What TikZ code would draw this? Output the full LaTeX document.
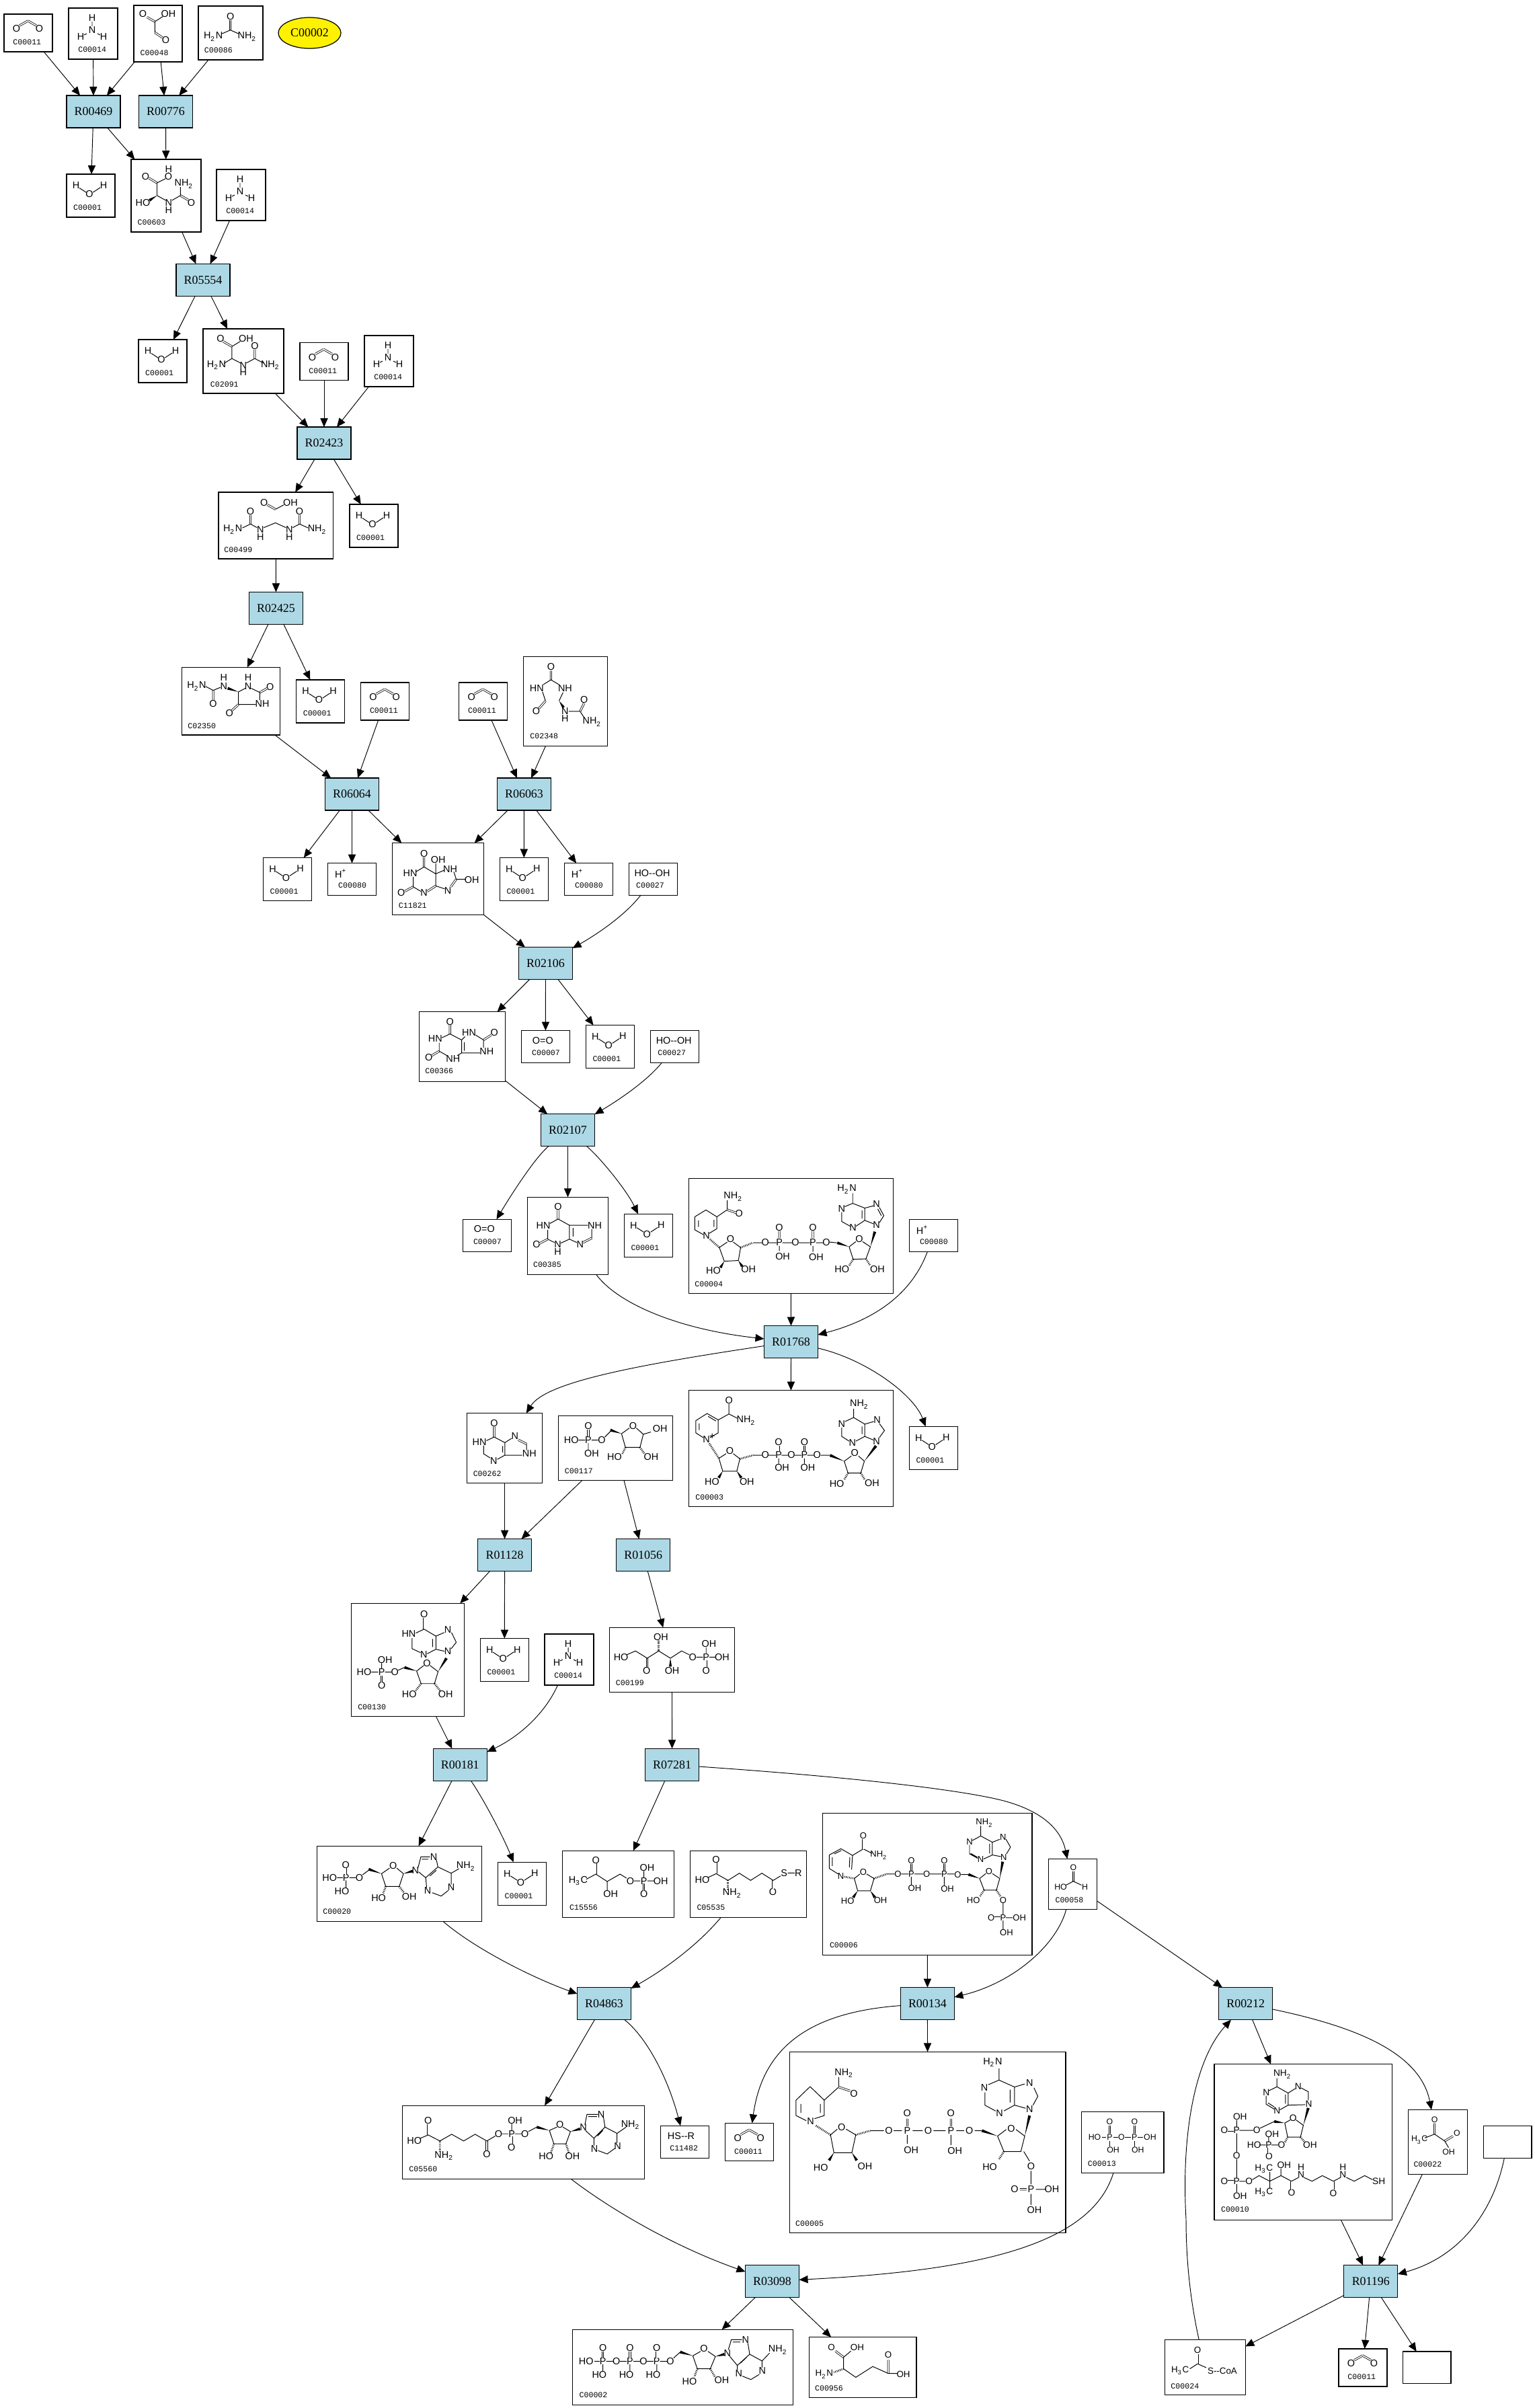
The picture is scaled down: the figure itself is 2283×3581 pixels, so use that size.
\documentclass[tikz,border=0pt]{standalone}
\usepackage{fontspec}
\usetikzlibrary{arrows.meta,calc,shapes.geometric}
\newfontfamily\rfont{Liberation Serif}
\newfontfamily\atomfont{Liberation Sans}
\newfontfamily\numfont{Liberation Mono}
\tikzset{
    reaction/.style={draw,fill=rfill,line width=.35pt,inner sep=0pt,outer sep=0pt,minimum width=.8cm,minimum height=.48cm,font=\rfont\fontsize{5.1pt}{5.1pt}\selectfont},
    cbox/.style={draw,fill=white,line width=.35pt,inner sep=0pt,outer sep=0pt},
    atom/.style={inner sep=0pt,font=\atomfont\fontsize{4.1pt}{4.1pt}\selectfont},
    clabel/.style={anchor=west,inner sep=0pt,font=\numfont\fontsize{3.3pt}{3.3pt}\selectfont},
    edge/.style={line width=.27pt,-{Triangle[length=3.7pt,width=3.2pt]}},
    bond/.style={line width=.28pt},
    dbond/.style={bond,double,double distance=.45pt,line width=.22pt},
    hashb/.style={line width=.8pt,dash pattern=on .25pt off .45pt},
    zoomA/.style={x=.004464cm,y=-.004464cm},
    zoomB/.style={x=.003333cm,y=-.003333cm},
    zoomC/.style={x=.003333cm,y=-.003509cm},
    zoomD/.style={x=.004146cm,y=-.004146cm},
    zoomE/.style={x=.004785cm,y=-.003333cm},
    zoomF/.style={x=.004464cm,y=-.003333cm},
    zoomG/.style={x=.007225cm,y=-.005741cm},
}
\definecolor{rfill}{HTML}{ADD8E6}
\newcommand{\NHt}{NH\textsubscript{2}}
\newcommand{\HtN}{H\textsubscript{2}N}
\newcommand{\HtC}{H\textsubscript{3}C}
\newcommand{\atoms}[2]{\foreach \atx/\aty/\atl [count=\ati] in {#2}{\node[atom] (#1-\ati) at (\atx,\aty) {\atl};}}
\newcommand{\wdg}[2]{\fill (#1) -- ($(#2)!.6pt!90:(#1)$) -- ($(#2)!.6pt!-90:(#1)$) -- cycle;}
\newcommand{\cbox}[5]{\node[cbox,minimum width={(#4-#2)*.01cm},minimum height={(#5-#3)*.01cm}] (#1) at ({(#2+#4)/2},{(#3+#5)/2}) {};}
\newcommand{\water}[3]{%
    \cbox{#1}{#2}{#3}{#2+72}{#3+64}
    \begin{scope}[shift={(#2,#3)}]
    \atoms{#1}{14/17/H,55/16.5/H,34/30/O}
    \draw[bond] (19,20.5)--(29,27) (39.4,27)--(50,20);
    \node[clabel] (#1-l) at (9.5,50) {C00001};
    \end{scope}}
\newcommand{\cotwo}[3]{%
    \cbox{#1}{#2}{#3}{#2+72}{#3+56}
    \begin{scope}[shift={(#2,#3)}]
    \atoms{#1}{18.5/22/O,52.5/22/O}
    \draw[dbond] (23,17)--(35.5,10) (48,17)--(35.5,10);
    \node[clabel] (#1-l) at (12.7,42) {C00011};
    \end{scope}}
\newcommand{\ammonia}[3]{%
    \cbox{#1}{#2}{#3}{#2+73}{#3+76}
    \begin{scope}[shift={(#2,#3)}]
    \atoms{#1}{35/14.3/H,35/33/N,18/42.5/H,52/42.5/H}
    \draw[bond] (35,20)--(35,27) (27,38)--(23,40) (43,38)--(47,40);
    \node[clabel] (#1-l) at (13.6,61.7) {C00014};
    \end{scope}}
\newcommand{\hplus}[3]{%
    \cbox{#1}{#2}{#3}{#2+72}{#3+48}
    \begin{scope}[shift={(#2,#3)}]
    \node[atom] (#1-1) at (19.6,15.6) {H\textsuperscript{+}};
    \node[clabel] (#1-l) at (15,33.5) {C00080};
    \end{scope}}
\newcommand{\oxygen}[3]{%
    \cbox{#1}{#2}{#3}{#2+72}{#3+48}
    \begin{scope}[shift={(#2,#3)}]
    \node[atom] (#1-1) at (32,14.5) {O=O};
    \node[clabel] (#1-l) at (15,33.5) {C00007};
    \end{scope}}
\newcommand{\peroxide}[3]{%
    \cbox{#1}{#2}{#3}{#2+72}{#3+48}
    \begin{scope}[shift={(#2,#3)}]
    \node[atom] (#1-1) at (34.4,14.7) {HO--OH};
    \node[clabel] (#1-l) at (9.8,33.5) {C00027};
    \end{scope}}
\begin{document}
\begin{tikzpicture}[x=.01cm,y=-.01cm]
\useasboundingbox (0,0) rectangle (2283,3581);
% reactions
\foreach \rname/\rx/\ry in {R00469/139/166,R00776/246.5/166,R05554/302/416.5,R02423/482/659,R02425/410.5/904.5,R06064/523.5/1181,R06063/779.5/1181,R02106/811.5/1432.6,R02107/844.5/1680.7,R01768/1176.5/1995.5,R01128/750.6/2312.6,R01056/956.7/2312.6,R00181/684.3/2624.3,R07281/999.6/2624.3,R04863/898.5/2979.3,R00134/1379.4/2979.6,R00212/1852.7/2979.6,R03098/1148.5/3392.3,R01196/2038.8/3392.7}
    {\node[reaction] (\rname) at (\rx,\ry) {\rname};}
\node[draw,fill=yellow,ellipse,line width=.35pt,inner sep=0pt,outer sep=0pt,minimum width=.93cm,minimum height=.46cm,font=\rfont\fontsize{5.1pt}{5.1pt}\selectfont] (Cstart) at (460.5,49) {C00002};
% small compounds
\water{C00001a}{99}{259}
\water{C00001b}{206}{505}
\water{C00001c}{520}{750}
\water{C00001d}{440.6}{1011}
\water{C00001e}{391.5}{1275.5}
\water{C00001f}{743.3}{1275.5}
\water{C00001g}{871.3}{1524.5}
\water{C00001h}{928.3}{1805.3}
\water{C00001i}{1352.3}{2121.4}
\water{C00001j}{714.3}{2436.6}
\water{C00001k}{740.4}{2769.3}
\cotwo{C00011a}{6}{21}
\cotwo{C00011b}{446}{509.5}
\cotwo{C00011c}{536.6}{1015}
\cotwo{C00011d}{682.6}{1015}
\cotwo{C00011e}{1078.7}{3157.3}
\cotwo{C00011f}{1991}{3492.9}
\ammonia{C00014a}{102}{12}
\ammonia{C00014b}{322}{252}
\ammonia{C00014c}{542}{499}
\ammonia{C00014d}{810}{2430}
\hplus{C00080a}{487.5}{1283.6}
\hplus{C00080b}{839.3}{1283.6}
\hplus{C00080c}{1352.3}{1813.3}
\oxygen{C00007a}{775.4}{1532.6}
\oxygen{C00007b}{688.3}{1813.3}
\peroxide{C00027a}{935.6}{1283.5}
\peroxide{C00027b}{967.8}{1532.6}
\cbox{C11482}{982.2}{3161.3}{1054.6}{3209.3}
\node[atom] (C11482-1) at (1013,3176) {HS--R};
\node[clabel] (C11482-l) at (995.6,3194.3) {C11482};
\cbox{Cblanka}{2206.3}{3161.6}{2278}{3209.3}
\cbox{Cblankb}{2086.4}{3496.9}{2158}{3544.5}
% top of the map
\cbox{C00048}{199}{8}{271}{92}
\cbox{C00086}{295}{9}{391}{89}
\cbox{C00603}{195}{237}{299}{345}
\cbox{C02091}{302}{489}{422}{585}
\begin{scope}[zoomA]
\atoms{C00048}{475/47/O,560/47/OH,551/133/O}
\draw[dbond] (489,57)--(515,72) (515,108)--(540,125);
\draw[bond] (515,72)--(541,55) (515,72)--(515,108);
\node[clabel] (C00048-l) at (465,175) {C00048};
\atoms{C00086}{766/54/O,709/122/\HtN,822/122/\NHt}
\draw[dbond] (766,68)--(766,100);
\draw[bond] (766,100)--(738,112) (766,100)--(793,112);
\node[clabel] (C00086-l) at (678,168) {C00086};
\atoms{C00603}{561/563/H,484/586/O,560/587/O,612/611/\NHt,475/673/HO,561/673/N,561/698/H,636/673/O}
\draw[dbond] (495,592)--(522,608) (600,650)--(626,665);
\draw[bond] (522,608)--(550,594) (561,573)--(561,577) (522,608)--(522,650) (522,650)--(551,666) (572,666)--(600,650) (600,650)--(600,622);
\wdg{522,650}{497,666}
\node[clabel] (C00603-l) at (456,739) {C00603};
\atoms{C02091}{733/1126/O,818/1126/OH,847/1151/O,720/1214/\HtN,809/1214/N,809/1238/H,899/1214/\NHt}
\draw[dbond] (742,1135)--(771,1152) (847,1192)--(847,1162);
\draw[bond] (771,1152)--(799,1135) (771,1152)--(771,1192) (771,1192)--(745,1208) (771,1192)--(800,1207) (819,1207)--(847,1192) (847,1192)--(876,1207);
\node[clabel] (C02091-l) at (698,1279) {C02091};
\end{scope}
\cbox{C00499}{325}{732}{495.5}{831}
\cbox{C02350}{270.5}{992.5}{416.5}{1093}
\cbox{C02348}{778.6}{976.4}{903.6}{1109.5}
\cbox{C11821}{583.5}{1253.7}{719.6}{1360.4}
\begin{scope}[shift={(250,680)},zoomA]
\atoms{C00499}{319/150/O,407/150/OH,274/180/O,437/180/O,215/240/\HtN,307/240/N,307/265/H,403/240/N,403/265/H,496/240/\NHt}
\draw[dbond] (330,158)--(357,173) (274,192)--(274,222) (437,192)--(437,222);
\draw[bond] (357,173)--(385,158) (274,222)--(247,235) (274,222)--(296,234) (318,234)--(357,218) (357,218)--(392,234) (414,234)--(437,222) (437,222)--(466,235);
\node[clabel] (C00499-l) at (185,307) {C00499};
\atoms{C02350}{185/733/H,185/761/N,95/761/\HtN,266/733/H,266/761/N,339/763/O,150/820/O,313/820/NH,204/850/O}
\draw[dbond] (150,775)--(150,807) (305,782)--(330,768) (234,822)--(212,842);
\draw[bond] (125,762)--(150,775) (150,775)--(174,765) (234,780)--(257,768) (276,768)--(305,782) (305,782)--(305,808) (234,780)--(234,822) (234,822)--(292,822);
\wdg{234,780}{198,768}
\node[clabel] (C02350-l) at (64,894) {C02350};
\atoms{C02348}{1273/697/O,1226/768/HN,1320/768/NH,1224/845/O,1383/806/O,1320/843/N,1320/869/H,1410/880/\NHt}
\draw[dbond] (1273,710)--(1273,740) (1255,810)--(1233,835) (1383,818)--(1370,845);
\draw[bond] (1273,740)--(1247,756) (1273,740)--(1300,756) (1245,780)--(1255,810) (1313,782)--(1300,810) (1332,845)--(1370,845) (1370,845)--(1385,868);
\wdg{1300,810}{1315,832}
\node[clabel] (C02348-l) at (1202,928) {C02348};
\atoms{C11821}{851/1317/O,898/1338/OH,938/1370/NH,805/1383/HN,1010/1405/OH,775/1448/O,851/1448/N,930/1440/N}
\draw[dbond] (851,1330)--(851,1362) (958,1403)--(940,1428) (890,1425)--(862,1443) (815,1428)--(787,1443);
\draw[bond] (851,1362)--(824,1378) (851,1362)--(890,1385) (890,1385)--(890,1350) (890,1385)--(920,1372) (950,1378)--(958,1403) (958,1403)--(990,1403) (920,1435)--(890,1425) (890,1385)--(890,1425) (840,1443)--(815,1428) (815,1428)--(815,1395);
\node[clabel] (C11821-l) at (765,1490) {C11821};
\end{scope}
\cbox{C00366}{623.6}{1504.5}{751.7}{1608.5}
\cbox{C00385}{784.3}{1780.3}{904.7}{1895.3}
\begin{scope}[shift={(600,1480)},zoomB]
\atoms{C00366}{208/118/O,142/195/HN,293/168/HN,406/168/O,372/252/NH,113/278/O,222/283/NH}
\draw[dbond] (208,132)--(208,173) (358,200)--(392,178) (160,250)--(126,270);
\draw[bond] (208,173)--(172,190) (208,173)--(260,200) (260,200)--(275,185) (323,178)--(358,200) (358,200)--(358,235) (260,200)--(260,258) (272,210)--(272,248) (260,258)--(342,258) (260,258)--(240,270) (195,270)--(160,250) (160,250)--(160,212);
\node[clabel] (C00366-l) at (95,340) {C00366};
\atoms{C00385}{691/945/O,625/1030/HN,855/1030/NH,595/1113/O,690/1113/N,690/1147/H,790/1113/N}
\draw[dbond] (691,960)--(691,1000) (842,1085)--(803,1105) (645,1090)--(607,1110);
\draw[bond] (691,1000)--(655,1020) (691,1000)--(742,1028) (742,1028)--(825,1028) (742,1028)--(742,1090) (758,1040)--(758,1078) (742,1090)--(703,1108) (742,1090)--(775,1105) (842,1045)--(842,1085) (675,1105)--(645,1090) (645,1090)--(645,1048);
\node[clabel] (C00385-l) at (578,1203) {C00385};
\end{scope}
% NAD pair
\cbox{C00004}{1024.3}{1752.3}{1328.3}{1923.5}
\cbox{C00003}{1024.3}{2067.7}{1328.3}{2240.4}
\begin{scope}[shift={(1000,1720)},zoomC]
\atoms{C00004}{780/138/\HtN,272/170/\NHt,912/200/N,298/242/O,757/220/N,478/300/O,628/300/O,912/288/N,807/300/N,152/335/N,260/350/O,835/350/O,415/362/O,478/362/P,550/362/O,628/362/P,688/362/O,493/422/OH,643/425/OH,183/482/HO,340/478/OH,758/476/HO,916/476/OH}
\draw[bond] (100,255)--(150,226)--(199,255)--(199,305)--(165,325) (100,255)--(100,310)--(138,330) (117,270)--(117,298) (186,268)--(186,298) (199,255)--(245,225)--(245,185);
\draw[dbond] (245,225)--(285,238) (478,315)--(478,345) (628,315)--(628,345);
\draw[bond] (210,385)--(245,362) (272,362)--(305,385)--(295,440)--(232,443)--(210,385) (360,365)--(400,365) (430,365)--(465,365) (492,365)--(535,365) (565,365)--(615,365) (642,365)--(673,365) (478,378)--(478,400) (628,378)--(628,403) (703,362)--(735,365) (790,382)--(820,360) (850,360)--(885,382)--(865,433)--(808,435)--(790,382);
\draw[hashb] (168,350)--(210,385) (305,385)--(360,365) (808,435)--(790,462) (865,433)--(885,462);
\wdg{232,443}{215,470}
\wdg{295,440}{312,465}
\wdg{790,382}{737,365}
\wdg{885,382}{905,318}
\draw[bond] (806,155)--(806,198) (806,198)--(770,212) (806,198)--(860,218)--(860,270)--(820,295) (795,295)--(757,275)--(757,235) (848,228)--(848,262) (860,218)--(900,208) (925,215)--(945,250)--(925,280) (900,285)--(860,270) (918,222)--(934,250);
\node[clabel] (C00004-l) at (98,540) {C00004};
\atoms{C00003}{253/1032/O,330/1118/\NHt,836/1050/\NHt,757/1133/N,915/1115/N,152/1198/N,178/1186/+,257/1247/O,815/1255/O,475/1210/O,590/1210/O,415/1264/O,475/1264/P,532/1264/O,590/1264/P,647/1264/O,805/1213/N,912/1207/N,490/1317/OH,605/1317/OH,177/1377/HO,333/1377/OH,735/1385/HO,892/1383/OH}
\draw[bond] (105,1118)--(155,1088)--(205,1115)--(205,1170)--(168,1190) (105,1118)--(105,1170)--(138,1190) (120,1130)--(120,1158) (160,1100)--(195,1120) (205,1115)--(253,1090)--(253,1047) (253,1090)--(290,1108);
\draw[bond] (208,1278)--(240,1258) (272,1258)--(302,1280)--(288,1332)--(225,1332)--(208,1278) (360,1265)--(400,1265) (430,1265)--(462,1265) (488,1265)--(518,1265) (546,1265)--(577,1265) (603,1265)--(632,1265) (475,1278)--(475,1300) (590,1278)--(590,1300) (663,1265)--(705,1265) (768,1290)--(800,1268) (832,1268)--(858,1290)--(842,1340)--(785,1340)--(768,1290);
\draw[dbond] (475,1225)--(475,1248) (590,1225)--(590,1248);
\draw[hashb] (165,1215)--(208,1278) (302,1280)--(360,1265) (785,1340)--(768,1368) (842,1340)--(860,1368);
\wdg{225,1332}{207,1360}
\wdg{288,1332}{308,1360}
\wdg{768,1290}{705,1265}
\wdg{858,1290}{910,1225}
\draw[bond] (810,1068)--(810,1105) (810,1105)--(772,1122) (810,1105)--(860,1133)--(860,1185)--(820,1205) (790,1205)--(757,1185)--(757,1148) (848,1143)--(848,1175) (860,1133)--(900,1122) (925,1130)--(948,1160)--(925,1190) (898,1200)--(860,1185);
\node[clabel] (C00003-l) at (101,1442) {C00003};
\end{scope}
% middle of the map
\cbox{C00262}{694.4}{2101.6}{806.8}{2205.6}
\cbox{C00117}{830.4}{2105.3}{1000.8}{2201.5}
\cbox{C00130}{522.4}{2384.3}{690.7}{2552.7}
\cbox{C00199}{906.3}{2420.4}{1092.5}{2516.6}
\begin{scope}[shift={(500,2000)},zoomD]
\atoms{C00262}{566/280/O,513/347/HN,640/327/N,692/390/NH,564/416/N}
\draw[dbond] (566,293)--(566,330) (652,340)--(682,355);
\draw[bond] (566,330)--(538,343) (566,330)--(604,350) (604,350)--(628,335) (682,355)--(682,377) (604,350)--(604,395) (596,362)--(596,385) (604,395)--(666,395) (604,395)--(577,410) (552,405)--(528,390)--(528,360);
\node[clabel] (C00262-l) at (489,461) {C00262};
\atoms{C00117}{903/290/O,842/340/HO,903/340/P,951/340/O,915/390/OH,1063/290/O,1160/300/OH,997/402/HO,1128/400/OH}
\draw[dbond] (903,303)--(903,327);
\draw[bond] (868,341)--(892,341) (915,341)--(938,341) (903,352)--(903,378) (962,330)--(982,310) (1022,318)--(1050,298) (1075,298)--(1100,320)--(1088,367)--(1036,367)--(1022,318) (1100,320)--(1127,312);
\draw[hashb] (1036,367)--(1025,390) (1088,367)--(1103,388);
\wdg{1022,318}{982,305}
\node[clabel] (C00117-l) at (817,452) {C00117};
\atoms{C00130}{315/965/O,260/1035/HN,400/1020/N,314/1108/N,400/1097/N,325/1140/O,175/1127/OH,100/1172/HO,163/1172/P,210/1172/O,163/1220/O,262/1250/HO,392/1250/OH}
\draw[dbond] (315,978)--(315,1018) (163,1184)--(163,1208);
\draw[bond] (315,1018)--(285,1032) (315,1018)--(357,1043) (357,1043)--(387,1030) (413,1030)--(430,1065)--(412,1088) (388,1097)--(357,1090) (357,1043)--(357,1090) (345,1053)--(345,1082) (357,1090)--(326,1106) (302,1102)--(272,1088)--(272,1050) (288,1168)--(314,1148) (336,1148)--(365,1170)--(352,1213)--(304,1213)--(288,1168) (245,1155)--(222,1165) (126,1172)--(150,1172) (175,1172)--(198,1172) (163,1160)--(163,1140);
\draw[hashb] (304,1213)--(285,1238) (352,1213)--(372,1238);
\wdg{365,1170}{395,1122}
\wdg{288,1168}{245,1155}
\node[clabel] (C00130-l) at (76,1298) {C00130};
\atoms{C00199}{1163/1047/OH,1335/1070/OH,1020/1118/HO,1277/1118/O,1325/1118/P,1382/1118/OH,1112/1166/O,1203/1166/OH,1325/1166/O}
\draw[dbond] (1114,1122)--(1114,1153) (1325,1130)--(1325,1153);
\draw[bond] (1040,1110)--(1072,1096)--(1114,1122)--(1155,1096)--(1197,1122)--(1237,1096)--(1265,1110) (1290,1118)--(1313,1118) (1337,1118)--(1360,1118) (1325,1083)--(1325,1105);
\draw[hashb] (1155,1096)--(1155,1060);
\wdg{1197,1122}{1197,1152}
\node[clabel] (C00199-l) at (1000,1211) {C00199};
\end{scope}
\cbox{C00020}{471.5}{2745.3}{716.5}{2857.3}
\cbox{C15556}{836.6}{2752.3}{1002.6}{2851.3}
\cbox{C05535}{1026.6}{2752.3}{1199.8}{2851.3}
\begin{scope}[shift={(450,2600)},zoomE]
\atoms{C00020}{134/520/O,84/578/HO,135/578/P,176/578/O,122/638/HO,281/523/O,350/545/N,407/484/N,507/527/\NHt,388/637/N,461/622/N,236/668/HO,331/663/OH}
\draw[dbond] (134,535)--(134,565);
\draw[bond] (107,578)--(125,578) (145,578)--(165,578) (135,590)--(135,622) (186,565)--(205,545) (245,560)--(270,535) (292,535)--(313,560)--(300,617)--(258,617)--(245,560) (358,535)--(367,485)--(395,485) (370,495)--(390,495) (415,497)--(420,530)--(382,578)--(360,552) (420,530)--(461,558)--(485,538) (461,558)--(461,608) (452,635)--(430,660)--(402,645) (385,622)--(382,578) (415,545)--(395,570);
\draw[hashb] (258,617)--(250,648) (300,617)--(315,645);
\wdg{245,560}{205,540}
\wdg{313,560}{342,548}
\node[clabel] (C00020-l) at (62,730) {C00020};
\atoms{C15556}{910/500/O,1069/532/OH,855/592/\HtC,1017/592/O,1059/592/P,1111/592/OH,956/652/OH,1059/652/O}
\draw[dbond] (910,515)--(910,562) (1059,605)--(1059,636);
\draw[bond] (880,585)--(910,562)--(945,595)--(985,562)--(1005,580) (945,595)--(945,635) (1028,592)--(1048,592) (1070,592)--(1090,592) (1059,548)--(1059,578);
\node[clabel] (C15556-l) at (827,712) {C15556};
\atoms{C05535}{1283/497/O,1240/587/HO,1333/648/\NHt,1494/557/S,1538/557/R,1459/643/O}
\draw[dbond] (1283,512)--(1283,560) (1460,590)--(1460,628);
\draw[bond] (1258,577)--(1283,560)--(1320,590)--(1355,558)--(1390,590)--(1425,558)--(1460,590)--(1483,570) (1505,557)--(1527,557);
\draw[hashb] (1320,590)--(1320,630);
\node[clabel] (C05535-l) at (1222,712) {C05535};
\end{scope}
\cbox{C05560}{598.3}{3131.3}{958.6}{3240.3}
\cbox{C00002}{851.4}{3464.3}{1179.5}{3576.3}
\begin{scope}[shift={(580,3100)},zoomF]
\atoms{C05560}{127/162/O,416/160/OH,800/180/\NHt,81/250/HO,180/318/\NHt,361/220/O,405/220/P,449/220/O,565/178/O,702/135/N,643/192/N,757/275/N,680/287/N,404/280/O,322/310/O,519/320/HO,607/320/OH}
\draw[dbond] (127,178)--(127,225) (322,252)--(322,295) (405,232)--(405,265);
\draw[bond] (101,240)--(127,225)--(166,252)--(205,222)--(245,252)--(283,222)--(322,252)--(350,230) (372,220)--(393,220) (415,220)--(438,220) (405,175)--(405,208) (460,210)--(488,190) (530,205)--(555,190) (575,190)--(600,210)--(585,265)--(545,265)--(530,205) (648,180)--(655,133)--(692,133) (660,143)--(688,143) (710,147)--(715,190)--(678,240)--(650,205) (715,190)--(755,218)--(785,190) (755,218)--(755,262) (748,285)--(722,310)--(692,295) (678,272)--(678,240) (708,205)--(690,230);
\draw[hashb] (166,252)--(166,300) (545,265)--(535,305) (585,265)--(595,305);
\wdg{530,205}{488,190}
\wdg{600,210}{632,198}
\node[clabel] (C05560-l) at (62,379) {C05560};
\atoms{C00002}{708/1177/O,798/1177/O,887/1177/O,652/1237/HO,708/1237/P,753/1237/O,798/1237/P,843/1237/O,887/1237/P,932/1237/O,696/1297/HO,786/1297/HO,875/1297/HO,1044/1180/O,1122/1200/N,1182/1140/N,1290/1185/\NHt,1160/1290/N,1238/1280/N,996/1327/HO,1103/1320/OH}
\draw[dbond] (708,1192)--(708,1222) (798,1192)--(798,1222) (887,1192)--(887,1222);
\draw[bond] (680,1237)--(697,1237) (719,1237)--(742,1237) (764,1237)--(787,1237) (809,1237)--(832,1237) (854,1237)--(876,1237) (898,1237)--(921,1237) (708,1250)--(708,1282) (798,1250)--(798,1282) (887,1250)--(887,1282) (943,1222)--(965,1195) (1007,1212)--(1033,1192) (1057,1192)--(1082,1215)--(1065,1270)--(1022,1270)--(1007,1212) (1125,1185)--(1135,1140)--(1170,1140) (1140,1150)--(1165,1150) (1190,1155)--(1196,1205)--(1155,1255)--(1130,1215) (1196,1205)--(1237,1235)--(1262,1200) (1237,1235)--(1237,1265) (1228,1295)--(1200,1318)--(1172,1303) (1155,1275)--(1155,1255) (1185,1220)--(1165,1245);
\draw[hashb] (1022,1270)--(1012,1305) (1065,1270)--(1080,1305);
\wdg{1007,1212}{965,1195}
\wdg{1082,1215}{1112,1205}
\node[clabel] (C00002-l) at (628,1386) {C00002};
\end{scope}
% bottom right
\cbox{C00006}{1223.7}{2696.6}{1535}{2907.3}
\cbox{C00058}{1559.7}{2764.4}{1631.2}{2839.6}
\cbox{C00005}{1174.6}{3051.4}{1585}{3320.6}
\cbox{C00013}{1608.8}{3140.4}{1731}{3231.7}
\cbox{C00010}{1806}{3069.8}{2070.5}{3301.7}
\cbox{C00022}{2094.4}{3137.5}{2182.5}{3233.4}
\cbox{C00024}{1732.4}{3479.7}{1852.3}{3561.2}
\cbox{C00956}{1203.5}{3475.6}{1363}{3565.2}
\begin{scope}[shift={(1224,2697)},zoomB]
\tikzset{atom/.append style={font=\atomfont\fontsize{3.7pt}{3.7pt}\selectfont}}
\atoms{C00006}{180/98/O,250/187/\NHt,722/42/\NHt,655/125/N,805/105/N,705/205/N,808/195/N,80/280/N,180/262/O,335/270/O,395/270/P,463/270/O,542/270/P,602/272/O,742/258/O,395/210/O,542/210/O,410/333/OH,556/336/OH,110/390/HO,257/388/OH,672/388/HO,805/388/O,752/465/O,805/465/P,878/465/OH,820/532/OH}
\draw[bond] (28,185)--(80,157)--(132,187)--(128,250) (28,185)--(28,245)--(68,270) (42,195)--(42,235) (50,180)--(82,165) (120,195)--(118,240) (132,187)--(180,158)--(220,178) (140,290)--(165,270) (195,270)--(228,290)--(212,345)--(155,345)--(140,290) (285,270)--(320,270) (350,270)--(382,270) (408,270)--(448,270) (478,270)--(530,270) (555,270)--(587,270) (617,272)--(650,272) (395,283)--(395,318) (542,283)--(542,320) (700,290)--(728,268) (757,268)--(790,290)--(775,342)--(720,342)--(700,290) (805,400)--(805,452) (818,465)--(848,465) (805,478)--(805,518);
\draw[bond] (705,55)--(705,100)--(668,120) (705,100)--(757,128)--(757,185)--(718,203) (692,200)--(655,180)--(655,140) (660,178)--(690,195) (745,135)--(745,178) (757,128)--(790,115) (818,115)--(838,150)--(820,180) (795,192)--(757,185);
\draw[dbond] (180,115)--(180,158) (395,225)--(395,255) (542,225)--(542,255) (765,465)--(793,465);
\draw[hashb] (95,282)--(140,290) (228,290)--(285,270) (720,342)--(700,372) (775,342)--(795,372);
\wdg{155,345}{135,375}
\wdg{212,345}{232,375}
\wdg{700,290}{650,272}
\wdg{790,290}{803,215}
\node[clabel] (C00006-l) at (28,588) {C00006};
\end{scope}
\begin{scope}[shift={(1806,3070)},zoomB]
\tikzset{atom/.append style={font=\atomfont\fontsize{3.9pt}{3.9pt}\selectfont}}
\atoms{C00010}{305/45/\NHt,375/97/N,232/125/N,422/178/N,280/207/N,352/240/O,115/235/OH,45/295/O,100/295/P,190/295/O,258/312/OH,178/360/HO,243/360/P,300/360/O,428/360/OH,245/412/O,100/408/O,222/467/\HtC,312/450/OH,388/458/H,575/458/H,388/492/N,575/492/N,45/522/O,100/522/P,155/522/O,735/522/SH,222/572/\HtC,345/573/O,532/575/O,115/588/OH}
\draw[bond] (280,62)--(280,100)--(243,118) (280,100)--(330,128)--(330,182)--(293,203) (268,200)--(232,178)--(232,140) (318,135)--(318,175) (240,172)--(268,190) (330,128)--(362,108) (388,105)--(420,122)--(420,160) (405,180)--(330,182) (315,262)--(340,248) (365,248)--(398,272)--(385,325)--(328,325)--(315,262) (268,255)--(205,285) (112,295)--(175,295) (100,250)--(100,282) (100,308)--(100,393) (100,423)--(100,508) (112,522)--(140,522) (100,535)--(100,572) (170,515)--(200,497)--(248,522)--(248,480) (248,522)--(248,555) (248,522)--(298,497)--(298,465) (298,497)--(345,522)--(377,505) (400,505)--(437,522)--(483,497)--(532,522)--(565,505) (590,505)--(625,522)--(672,497)--(707,515) (243,325)--(243,348) (200,360)--(230,360) (255,360)--(285,360);
\draw[dbond] (60,295)--(88,295) (60,522)--(88,522) (345,522)--(345,558) (532,522)--(532,560) (243,372)--(243,398);
\draw[hashb] (328,325)--(315,350) (385,325)--(405,348);
\wdg{398,272}{420,195}
\wdg{315,262}{268,255}
\node[clabel] (C00010-l) at (28,648) {C00010};
\end{scope}
\begin{scope}[shift={(1150,2680)},zoomG]
\tikzset{atom/.append style={font=\atomfont\fontsize{3.5pt}{3.5pt}\selectfont}}
\atoms{C00058}{618/170/O,592/220/HO,642/220/H}
\draw[dbond] (618,180)--(618,205);
\draw[bond] (603,215)--(618,205)--(635,215);
\node[clabel] (C00058-l) at (580,253) {C00058};
\tikzset{atom/.append style={font=\atomfont\fontsize{4.1pt}{4.1pt}\selectfont}}
\atoms{C00005}{452/674/\HtN,146/702/\NHt,528/728/N,166/755/O,435/740/N,528/795/N,466/805/N,77/827/N,141/843/O,490/845/O,276/805/O,366/805/O,238/851/O,276/851/P,319/851/O,366/851/P,404/851/O,284/901/OH,374/903/OH,98/946/HO,189/943/OH,446/945/HO,531/943/O,497/1003/O,531/1003/P,574/1003/OH,538/1056/OH}
\draw[bond] (47,772)--(76,737)--(105,772)--(105,812)--(85,820) (47,772)--(47,812)--(68,825) (57,782)--(57,805) (97,782)--(97,805) (105,772)--(135,738)--(135,712) (118,862)--(132,847) (150,847)--(170,862)--(162,908)--(125,908)--(118,862) (200,851)--(228,851) (248,851)--(265,851) (287,851)--(308,851) (330,851)--(355,851) (377,851)--(393,851) (415,851)--(430,851) (462,865)--(480,848) (500,848)--(518,865)--(510,905)--(475,905)--(462,865) (516,905)--(528,930) (531,955)--(531,990) (541,1003)--(562,1003) (531,1015)--(531,1043) (276,862)--(276,885) (366,862)--(366,888) (465,690)--(465,720)--(443,732) (465,720)--(497,738)--(518,730) (497,738)--(497,785)--(475,800) (458,800)--(436,785)--(436,752) (488,745)--(488,778) (537,740)--(545,762)--(535,785) (520,793)--(497,785);
\draw[dbond] (135,738)--(158,748) (276,820)--(276,840) (366,820)--(366,840) (508,1003)--(522,1003);
\draw[hashb] (88,838)--(118,862) (170,862)--(200,851) (475,905)--(465,925);
\wdg{125,908}{115,928}
\wdg{162,908}{172,928}
\wdg{462,865}{430,851}
\wdg{518,865}{528,812}
\node[clabel] (C00005-l) at (45,1091) {C00005};
\tikzset{atom/.append style={font=\atomfont\fontsize{3.5pt}{3.5pt}\selectfont}}
\atoms{C00013}{693/828/O,744/828/O,662/868/HO,693/868/P,717/868/O,744/868/P,776/868/OH,700/901/OH,751/901/OH}
\draw[dbond] (693,838)--(693,858) (744,838)--(744,858);
\draw[bond] (677,868)--(686,868) (700,868)--(710,868) (724,868)--(737,868) (751,868)--(762,868) (693,878)--(693,892) (744,878)--(744,892);
\node[clabel] (C00013-l) at (647,936) {C00013};
\atoms{C00022}{1362/822/O,1331/875/\HtC,1408/857/O,1391/907/OH}
\draw[dbond] (1362,832)--(1362,860) (1383,878)--(1400,865);
\draw[bond] (1342,870)--(1362,860)--(1383,878)--(1391,895);
\node[clabel] (C00022-l) at (1318,939) {C00022};
\tikzset{atom/.append style={font=\atomfont\fontsize{3.8pt}{3.8pt}\selectfont}}
\atoms{C00024}{874/1420/O,838/1473/\HtC,925/1473/S--CoA}
\draw[dbond] (874,1430)--(874,1455);
\draw[bond] (858,1468)--(874,1455)--(892,1465);
\node[clabel] (C00024-l) at (818,1513) {C00024};
\atoms{C00956}{120/1412/O,173/1412/OH,237/1432/O,105/1482/\HtN,268/1482/OH}
\draw[dbond] (128,1422)--(145,1438) (237,1445)--(237,1480);
\draw[bond] (145,1438)--(160,1422) (145,1438)--(145,1468)--(170,1490)--(205,1462)--(237,1480)--(256,1480);
\draw[hashb] (145,1468)--(125,1477);
\node[clabel] (C00956-l) at (85,1519) {C00956};
\end{scope}
% connectors
\foreach \a/\b in {C00011a/R00469,C00014a/R00469,C00048/R00469,C00048/R00776,C00086/R00776,R00469/C00001a,R00469/C00603,R00776/C00603,C00603/R05554,C00014b/R05554,R05554/C00001b,R05554/C02091,C02091/R02423,C00011b/R02423,C00014c/R02423,R02423/C00499,R02423/C00001c,C00499/R02425,R02425/C02350,R02425/C00001d,C02350/R06064,C00011c/R06064,C00011d/R06063,C02348/R06063,R06064/C00001e,R06064/C00080a,R06064/C11821,R06063/C11821,R06063/C00001f,R06063/C00080b,C11821/R02106,R02106/C00366,R02106/C00007a,R02106/C00001g,C00366/R02107,R02107/C00385,C00004/R01768,R01768/C00003,C00262/R01128,C00117/R01128,C00117/R01056,R01128/C00130,R01128/C00001j,R01056/C00199,C00130/R00181,C00199/R07281,R00181/C00020,R07281/C15556,C00006/R00134,C00058/R00212,R04863/C05560,R00134/C00005,R03098/C00002,R03098/C00956,R00212/C00010,C00010/R01196,C00022/R01196,R01196/C00024,R01196/C00011f,R01196/Cblankb}
    {\draw[edge] (\a) -- (\b);}
\draw[edge] (C00027a) .. controls (926.5,1365) and (880,1393.9) .. (R02106);
\draw[edge] (C00027b) .. controls (960,1610) and (915,1639) .. (R02107);
\draw[edge] (R02107) .. controls (795,1722) and (757,1782) .. (C00007b);
\draw[edge] (R02107) .. controls (893,1722) and (932,1770) .. (C00001h);
\draw[edge] (C00385) .. controls (915.8,1935) and (1000,1975.6) .. (R01768);
\draw[edge] (C00080c) .. controls (1355.7,1925) and (1300,1963) .. (R01768);
\draw[edge] (R01768) .. controls (950,2029.5) and (811.6,2055) .. (C00262);
\draw[edge] (R01768) .. controls (1290,2022) and (1359.6,2075) .. (C00001i);
\draw[edge] (C00014d) .. controls (809.8,2550) and (770,2583.6) .. (R00181);
\draw[edge] (R00181) .. controls (722,2680) and (750,2735) .. (C00001k);
\draw[edge] (R07281) .. controls (1300,2645) and (1450,2665) .. (1500,2680) .. controls (1550,2695) and (1578,2720) .. (C00058);
\draw[edge] (C00020) .. controls (705,2897) and (790,2940.4) .. (R04863);
\draw[edge] (C05535) .. controls (1040.3,2890) and (990,2928) .. (R04863);
\draw[edge] (C00058) .. controls (1572.6,2890) and (1510,2948) .. (R00134);
\draw[edge] (R04863) .. controls (962,3030) and (993.3,3090) .. (C11482);
\draw[edge] (R00134) .. controls (1210,2992) and (1135,3040) .. (C00011e);
\draw[edge] (C00013) .. controls (1622.4,3340) and (1450,3377) .. (R03098);
\draw[edge] (C05560) .. controls (905,3283.3) and (1000,3340) .. (R03098);
\draw[edge] (R00212) .. controls (2010,3012.6) and (2111.7,3050) .. (C00022);
\draw[edge] (Cblanka) .. controls (2221,3290) and (2170,3357) .. (R01196);
\draw[edge] (C00024) .. controls (1770,3420) and (1764,3360) .. (1764,3300) .. controls (1757,3180) and (1775,3065) .. (R00212);
\end{tikzpicture}
\end{document}
